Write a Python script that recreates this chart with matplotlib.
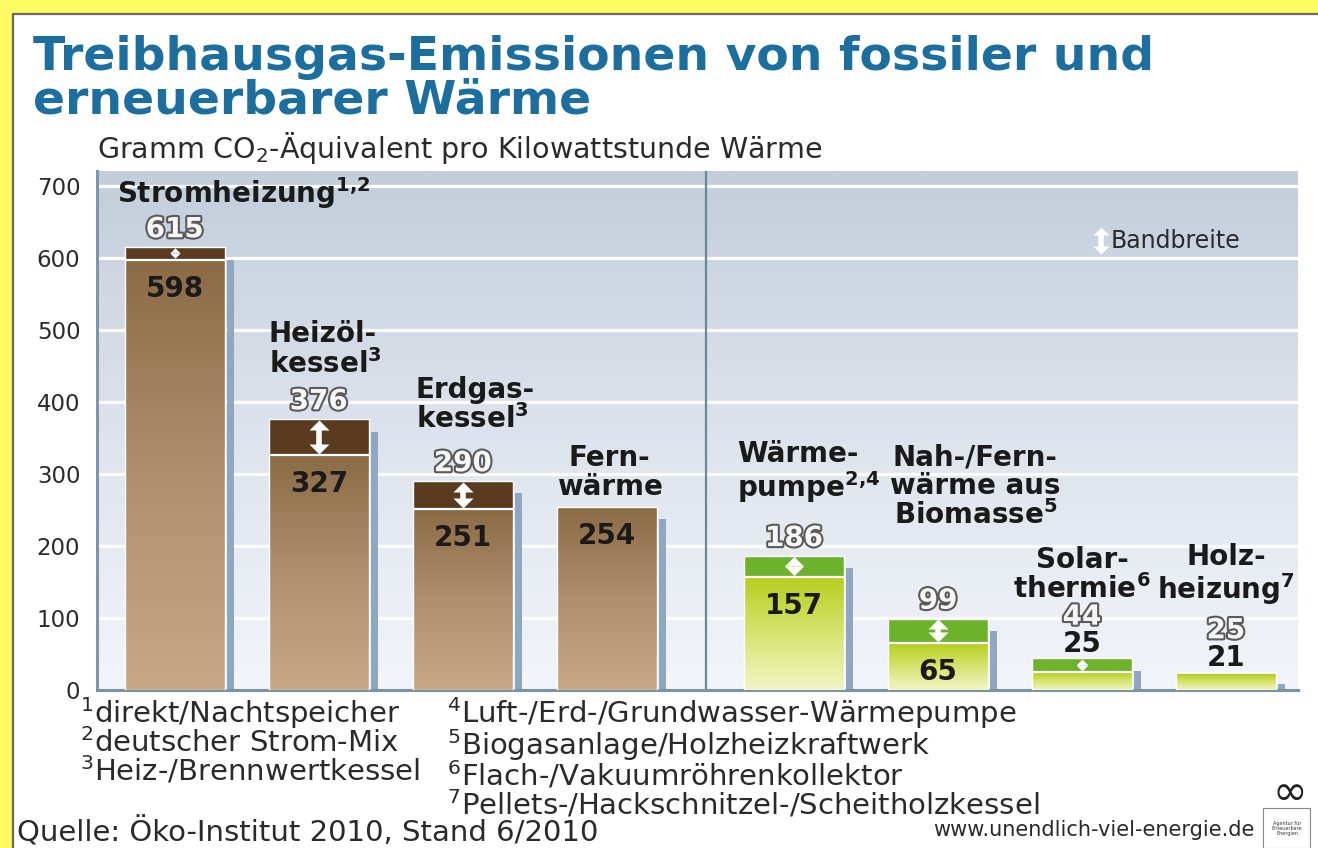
import numpy as np
import matplotlib
matplotlib.use("Agg")
import matplotlib.pyplot as plt
from matplotlib.patches import Rectangle
from matplotlib.path import Path
from matplotlib.colors import LinearSegmentedColormap
import matplotlib.patheffects as pe

# ---------------- data ----------------
categories = ["Stromheizung", "Heizöl-\nkessel", "Erdgas-\nkessel", "Fern-\nwärme",
              "Wärme-\npumpe", "Nah-/Fern-\nwärme aus\nBiomasse", "Solar-\nthermie", "Holz-\nheizung"]
footnote_refs = ["1{,}2", "3", "3", "", "2{,}4", "5", "6", "7"]
low_values = [598, 327, 251, 254, 157, 65, 25, 21]
high_values = [615, 376, 290, 254, 186, 99, 44, 25]
group = ["fossil", "fossil", "fossil", "fossil", "renew", "renew", "renew", "renew"]
y_ticks = [0, 100, 200, 300, 400, 500, 600, 700]
footnotes_left = [("1", "direkt/Nachtspeicher"), ("2", "deutscher Strom-Mix"), ("3", "Heiz-/Brennwertkessel")]
footnotes_right = [("4", "Luft-/Erd-/Grundwasser-Wärmepumpe"), ("5", "Biogasanlage/Holzheizkraftwerk"),
                   ("6", "Flach-/Vakuumröhrenkollektor"), ("7", "Pellets-/Hackschnitzel-/Scheitholzkessel")]
title = "Treibhausgas-Emissionen von fossiler und\nerneuerbarer Wärme"
subtitle = "Gramm CO$_2$-Äquivalent pro Kilowattstunde Wärme"
source = "Quelle: Öko-Institut 2010, Stand 6/2010"
website = "www.unendlich-viel-energie.de"

# ---------------- style ----------------
plt.rcParams['font.family'] = ['DejaVu Sans']
plt.rcParams['mathtext.fontset'] = 'dejavusans'

W, H = 1318, 848
fig = plt.figure(figsize=(W / 100, H / 100), dpi=100, facecolor='#fdfc62')
panel = Rectangle((13 / W, -0.02), 1.0, (H - 14) / H + 0.02, transform=fig.transFigure,
                  facecolor='white', edgecolor='#6a6a6a', lw=1.6, zorder=-10)
fig.patches.append(panel)

ax = fig.add_axes([97 / W, 1 - 690 / H, (1298 - 97) / W, (690 - 171) / H])
ax.set_facecolor('none')
ax.set_zorder(1)
ax.set_xlim(-0.54, 7.80)
ax.set_ylim(0, 721)
PX_PER_UNIT = (690 - 171) / 721.0  # pixels per data unit (vertical)

n = len(categories)
idx = np.arange(n)
pos = idx + np.where(idx >= 4, 0.3, 0.0)
bw = 0.694

up_head = Path([(-1, 0), (1, 0), (0, 1.0), (-1, 0)],
               [Path.MOVETO, Path.LINETO, Path.LINETO, Path.CLOSEPOLY])
down_head = Path([(-1, 0), (1, 0), (0, -1.0), (-1, 0)],
                 [Path.MOVETO, Path.LINETO, Path.LINETO, Path.CLOSEPOLY])


def range_arrow(x, lo, hi, head_px=10.0, shaft_lw=4.0, z=5):
    span_px = (hi - lo) * PX_PER_UNIT
    h_px = min(head_px, span_px / 2.0)
    h_u = h_px / PX_PER_UNIT
    size = h_px / (0.5 * 100 / 72)
    if hi - h_u > lo + h_u:
        ax.plot([x, x], [lo + h_u * 0.9, hi - h_u * 0.9], color='white', lw=shaft_lw,
                solid_capstyle='butt', zorder=z)
    ax.plot([x], [hi - h_u], marker=up_head, markersize=size, color='white', mew=0, zorder=z)
    ax.plot([x], [lo + h_u], marker=down_head, markersize=size, color='white', mew=0, zorder=z)


# background gradient
bg = LinearSegmentedColormap.from_list('bg', ['#f2f5fa', '#dde3ec', '#c3cedb'])
ax.imshow(np.linspace(0, 1, 256).reshape(-1, 1), extent=(0, 1, 0, 1), transform=ax.transAxes,
          cmap=bg, aspect='auto', origin='lower', zorder=0)
for v in y_ticks[1:]:
    ax.axhline(v, color='white', lw=2.3, zorder=1)
ax.axvline((pos[3] + pos[4]) / 2 + 0.04, color='#6e869a', lw=1.6, zorder=1)

cm_fossil = LinearSegmentedColormap.from_list('f', ['#c6a887', '#b08f6c', '#8b6a46'])
cm_renew = LinearSegmentedColormap.from_list('r', ['#f0f5c4', '#d6e470', '#b5ce1c'])
dark = {"fossil": '#5a3b20', "renew": '#6db22b'}
grad = np.linspace(0, 1, 256).reshape(-1, 1)

num_font = dict(fontsize=20, fontweight='bold')
outline = [pe.withStroke(linewidth=3, foreground='#5a5a5a')]

for i in range(n):
    x = pos[i]
    x0, x1 = x - bw / 2, x + bw / 2
    lo, hi = low_values[i], high_values[i]
    # shadow strip
    ax.add_patch(Rectangle((x1 + 0.015, 0), 0.05, max(hi - 17, 5), facecolor='#8ea8c2',
                           edgecolor='none', zorder=2))
    cm = cm_fossil if group[i] == "fossil" else cm_renew
    ax.imshow(grad, extent=(x0, x1, 0, lo), cmap=cm, aspect='auto', origin='lower', zorder=3)
    if hi - lo >= 6:
        ax.add_patch(Rectangle((x0, lo), bw, hi - lo, facecolor=dark[group[i]], edgecolor='none', zorder=3))
        ax.plot([x0, x1], [lo, lo], color='white', lw=1.6, zorder=4, solid_capstyle='butt')
        range_arrow(x, lo + 1.5, hi - 1)
    ax.add_patch(Rectangle((x0, 0), bw, max(hi, lo), fill=False, edgecolor='white', lw=1.0, zorder=4))

    # value labels
    small = hi < 60
    if small:
        ax.annotate(str(lo), xy=(x, hi), xytext=(0, 10), textcoords='offset points',
                    ha='center', va='center', color='#1a1a1a', zorder=6, **num_font)
        ax.annotate(str(hi), xy=(x, hi), xytext=(0, 30), textcoords='offset points',
                    ha='center', va='center', color='#f6f6f6', path_effects=outline, zorder=6,
                    **num_font)
    else:
        if hi > lo:
            ax.annotate(str(hi), xy=(x, hi), xytext=(0, 13), textcoords='offset points',
                        ha='center', va='center', color='#f6f6f6', path_effects=outline, zorder=6,
                        **num_font)
        ax.annotate(str(lo), xy=(x, lo), xytext=(0, -21), textcoords='offset points',
                    ha='center', va='center', color='#1a1a1a', zorder=6, **num_font)

# category labels (positions in data coords)
def lab(i):
    t = categories[i]
    if footnote_refs[i]:
        t = t + r"$^{\mathbf{" + footnote_refs[i] + "}}$"
    return t

cat_style = dict(fontsize=20, fontweight='bold', color='#1a1a1a', zorder=6, linespacing=1.02)
ax.text(-0.40, 690, lab(0), ha='left', va='center', **cat_style)
ax.text(pos[1] - bw / 2, 473, lab(1), ha='left', va='center', **cat_style)
ax.text(pos[2] - bw / 2 + 0.02, 396, lab(2), ha='left', va='center', **cat_style)
ax.text(pos[3] + 0.02, 302, lab(3), ha='center', va='center', multialignment='center', **cat_style)
ax.text(pos[4] - bw / 2 - 0.05, 302, lab(4), ha='left', va='center', **cat_style)
ax.text(pos[5] + 0.26, 282, lab(5), ha='center', va='center', multialignment='center', **cat_style)
ax.text(pos[6], 160, lab(6), ha='center', va='center', multialignment='center', **cat_style)
ax.text(pos[7], 160, lab(7), ha='center', va='center', multialignment='center', **cat_style)

# Bandbreite legend
range_arrow(6.43, 606, 643, head_px=8.0, shaft_lw=4.0, z=6)
ax.text(6.50, 624, "Bandbreite", ha='left', va='center', fontsize=17, color='#2a2a2a', zorder=6)

# axes styling
ax.set_xlim(-0.54, 7.80)
ax.set_ylim(0, 721)
ax.set_yticks(y_ticks)
ax.set_xticks([])
ax.tick_params(axis='y', length=0, pad=12, labelsize=16.5, labelcolor='#2b2b2b')
for s in ['top', 'right']:
    ax.spines[s].set_visible(False)
ax.spines['left'].set_color('#7f96aa')
ax.spines['left'].set_linewidth(2.2)
ax.spines['bottom'].set_color('#7b93a6')
ax.spines['bottom'].set_linewidth(2.2)

# title & texts
fig.text(33 / W, 1 - 35 / H, title, ha='left', va='top', fontsize=34, fontweight='bold',
         color='#1b6e9e', linespacing=0.97)
fig.text(97 / W, 1 - 148 / H, subtitle, ha='left', va='center', fontsize=20.5, color='#2a2a2a')

foot_size = 21
line_sp = 29.5 / (foot_size * 100 / 72 * 1.164)
left_block = "\n".join("$^{" + num + "}$" + txt for num, txt in footnotes_left)
right_block = "\n".join("$^{" + num + "}$" + txt for num, txt in footnotes_right)
fig.text(80 / W, 1 - 695 / H, left_block, fontsize=foot_size, color='#2a2a2a', va='top', ha='left',
         linespacing=line_sp)
fig.text(447 / W, 1 - 695 / H, right_block, fontsize=foot_size, color='#2a2a2a', va='top', ha='left',
         linespacing=line_sp)
fig.text(17 / W, 1 - 832 / H, source, fontsize=21, color='#2a2a2a', va='center', ha='left')
fig.text(1255 / W, 1 - 830 / H, website, fontsize=15, color='#2a2a2a', va='center', ha='right')
fig.text(1290 / W, 1 - 793 / H, "∞", fontsize=30, color='#222222', va='center', ha='center')
fig.patches.append(Rectangle((1263 / W, 0.0), 47 / W, 40 / H, transform=fig.transFigure,
                             facecolor='white', edgecolor='#888888', lw=0.8, zorder=5))
fig.text(1287 / W, 1 - 828 / H, "Agentur für\nErneuerbare\nEnergien", fontsize=3.5, color='#333333',
         va='center', ha='center', linespacing=1.0, zorder=6)

fig.savefig("out.png", dpi=100, facecolor=fig.get_facecolor())
